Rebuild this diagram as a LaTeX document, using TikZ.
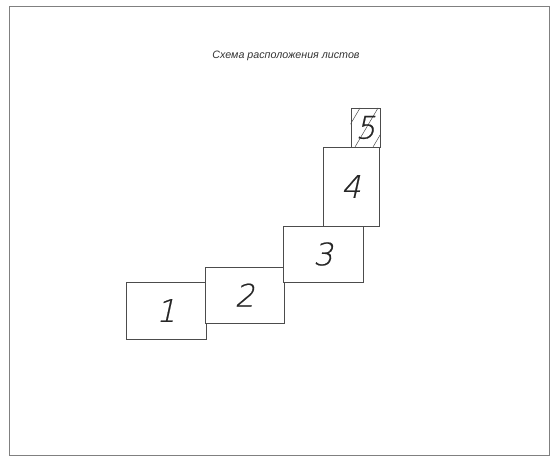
\documentclass[tikz,border=0pt]{standalone}
\usepackage{fontspec}
\setmainfont{Liberation Sans}
\newfontfamily\sheetfont[FakeSlant=0.22,FakeBold=0.6]{DejaVu Sans ExtraLight}
\tikzset{
 frame/.style={draw=black!50,line width=.8pt},
 sheet/.style={draw=black!70,line width=.7pt,fill=white,inner sep=0,font=\sheetfont\fontsize{31}{31}\selectfont,text=black!85},
 sheetno/.style={inner sep=0,font=\sheetfont\fontsize{31}{31}\selectfont,text=black!85},
 hatch/.style={draw=black!70,line width=.5pt},
 caption/.style={font=\itshape\fontsize{10.7}{12}\selectfont,text=black!80}
}
\begin{document}
\begin{tikzpicture}[x=1pt,y=-1pt]
\path[use as bounding box] (0,0) rectangle (551,457);
\draw[frame] (9,6) rectangle (549,455);
\node[caption] (title) at (286,56) {Схема расположения листов};
\node[sheet,minimum width=80pt,minimum height=57pt] (s1) at (166,310.5) {1};
\node[sheet,minimum width=79pt,minimum height=56pt] (s2) at (244.5,295) {2};
\node[sheet,minimum width=80pt,minimum height=56pt] (s3) at (323,254) {3};
\node[sheet,minimum width=56pt,minimum height=79pt] (s4) at (351,186.5) {4};
\node[sheet,minimum width=29pt,minimum height=39pt] (s5) at (365.5,127.5) {};
\begin{scope}
\clip (s5.south west) rectangle (s5.north east);
\foreach \x in {337,355,373,391}
  \draw[hatch] (\x,147) -- ++(23,-39);
\end{scope}
\node[sheetno] (n5) at (s5) {5};
\end{tikzpicture}
\end{document}
